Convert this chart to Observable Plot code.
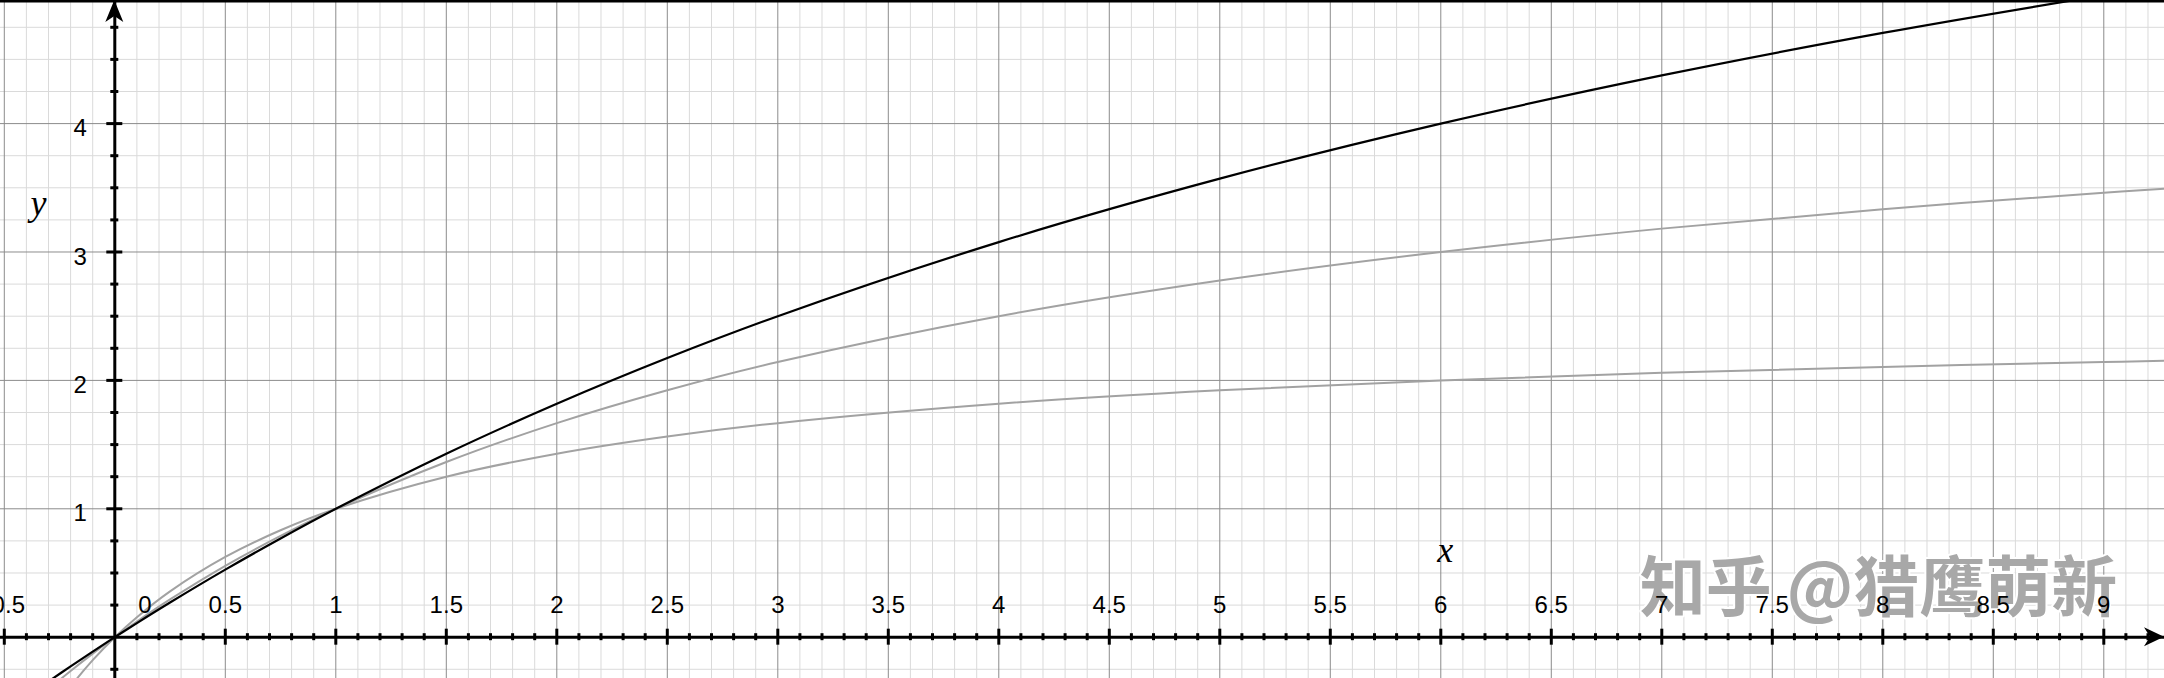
<!DOCTYPE html>
<html><head><meta charset="utf-8">
<script src="https://cdn.jsdelivr.net/npm/d3@7"></script>
<script src="https://cdn.jsdelivr.net/npm/@observablehq/plot@0.6"></script>
<style>html,body{margin:0;padding:0;background:#fff;overflow:hidden} svg{display:block}</style>
</head><body><div id="chart"></div>
<script>
// Sample points
const xSamples = [-0.3, -0.2, -0.1, 0, 0.1, 0.25, 0.5, 0.75, 1, 1.5, 2, 2.5, 3, 4, 5, 6, 7, 8, 9, 9.3];
const yCurveA = [-0.625, -0.385, -0.179, 0, 0.156, 0.357, 0.625, 0.833, 1, 1.25, 1.429, 1.563, 1.667, 1.818, 1.923, 2, 2.059, 2.105, 2.143, 2.153]; // gray, lower
const yCurveB = [-0.405, -0.263, -0.128, 0, 0.122, 0.294, 0.556, 0.789, 1, 1.364, 1.667, 1.923, 2.143, 2.5, 2.778, 3, 3.182, 3.333, 3.462, 3.496]; // gray, upper
const yCurveC = [-0.345, -0.227, -0.112, 0, 0.110, 0.270, 0.526, 0.769, 1, 1.429, 1.818, 2.174, 2.5, 3.077, 3.571, 4, 4.375, 4.706, 5, 5.082]; // black

const xTickValues = [-0.5, 0, 0.5, 1, 1.5, 2, 2.5, 3, 3.5, 4, 4.5, 5, 5.5, 6, 6.5, 7, 7.5, 8, 8.5, 9];
const xTickLabels = ["-0.5", "0", "0.5", "1", "1.5", "2", "2.5", "3", "3.5", "4", "4.5", "5", "5.5", "6", "6.5", "7", "7.5", "8", "8.5", "9"];
const yTickValues = [1, 2, 3, 4];
const yTickLabels = ["1", "2", "3", "4"];
const axisNames = ["x", "y"];
const watermark = "知乎 @猎鹰萌新";

// layout constants
const W = 2164, H = 678;
const xDomain = [-0.5172, 9.2747];
const yDomain = [-0.3217, 4.9587];
const pxX = W / (xDomain[1] - xDomain[0]);
const pxY = H / (yDomain[1] - yDomain[0]);

const rows = [];
const series = [["A", yCurveA], ["B", yCurveB], ["C", yCurveC]];
for (const [name, ys] of series) xSamples.forEach((x, i) => rows.push({series: name, x, y: ys[i]}));

const eps = 1e-9;
const xMinor = d3.range(-5, 93).map(i => i / 10);
const xMajorGrid = xMinor.filter(v => Math.abs(v * 2 - Math.round(v * 2)) < eps);
const xMinorGrid = xMinor.filter(v => !xMajorGrid.includes(v));
const yMinor = d3.range(-1, 20).map(i => i / 4);
const yMajorGrid = yMinor.filter(v => Number.isInteger(v));
const yMinorGrid = yMinor.filter(v => !Number.isInteger(v));

const xTicksMinor = xMinorGrid.filter(v => Math.abs(v) > eps);
const xTicksMajor = xMajorGrid.filter(v => Math.abs(v) > eps);
const yTicksMinor = yMinorGrid;
const yTicksMajor = yMajorGrid.filter(v => v !== 0);

const light = "#dadada", dark = "#8c8c8c", grayCurve = "#a2a2a2";
const labelFont = "Liberation Sans, Arial, Helvetica, sans-serif";

const xLabelRows = xTickValues.map((v, i) => ({v, t: xTickLabels[i]}));
const yLabelRows = yTickValues.map((v, i) => ({v, t: yTickLabels[i]}));

const chart = Plot.plot({
  width: W, height: H, margin: 0,
  style: {background: "#fff"},
  x: {domain: xDomain, axis: null},
  y: {domain: yDomain, axis: null},
  marks: [
    Plot.ruleX(xMinorGrid, {stroke: light, strokeWidth: 1}),
    Plot.ruleY(yMinorGrid, {stroke: light, strokeWidth: 1}),
    Plot.ruleX(xMajorGrid, {stroke: dark, strokeWidth: 1}),
    Plot.ruleY(yMajorGrid, {stroke: dark, strokeWidth: 1}),
    Plot.line(rows.filter(d => d.series === "A"), {x: "x", y: "y", stroke: grayCurve, strokeWidth: 2, curve: "catmull-rom", clip: true}),
    Plot.line(rows.filter(d => d.series === "B"), {x: "x", y: "y", stroke: grayCurve, strokeWidth: 2, curve: "catmull-rom", clip: true}),
    // axes
    Plot.ruleY([0], {stroke: "#000", strokeWidth: 3}),
    Plot.ruleX([0], {stroke: "#000", strokeWidth: 3}),
    Plot.ruleX(xTicksMinor, {y1: -3.5 / pxY, y2: 3.5 / pxY, stroke: "#000", strokeWidth: 3}),
    Plot.ruleX(xTicksMajor, {y1: -8 / pxY, y2: 8 / pxY, stroke: "#000", strokeWidth: 3}),
    Plot.ruleY(yTicksMinor, {x1: -4 / pxX, x2: 4 / pxX, stroke: "#000", strokeWidth: 3}),
    Plot.ruleY(yTicksMajor, {x1: -8 / pxX, x2: 8 / pxX, stroke: "#000", strokeWidth: 3}),
    Plot.line(rows.filter(d => d.series === "C"), {x: "x", y: "y", stroke: "#000", strokeWidth: 2.2, curve: "catmull-rom", clip: true}),
    // watermark (under the tick labels)
    Plot.text([watermark], {x: 6.90, y: 0.37, text: d => d, textAnchor: "start", fontSize: 66, fontWeight: "bold",
      fontFamily: "Noto Sans CJK SC, sans-serif", fill: "#a8a8a8", stroke: "#fff", strokeWidth: 4}),
    // tick labels
    Plot.text(xLabelRows.filter(d => d.v !== 0), {
      x: "v", y: 0, text: "t", dy: -24,
      lineAnchor: "bottom", textAnchor: "middle", fontSize: 24, fontFamily: labelFont, fill: "#000"
    }),
    Plot.text(xLabelRows.filter(d => d.v === 0), {
      x: "v", y: 0, text: "t", dy: -24, dx: 30,
      lineAnchor: "bottom", textAnchor: "middle", fontSize: 24, fontFamily: labelFont, fill: "#000"
    }),
    Plot.text(yLabelRows, {
      x: 0, y: "v", text: "t", dx: -28, dy: 5,
      lineAnchor: "middle", textAnchor: "end", fontSize: 24, fontFamily: labelFont, fill: "#000"
    }),
    // axis names
    Plot.text([axisNames[0]], {x: 6.02, y: 0.675, text: d => d, fontSize: 36, fontStyle: "italic", fontFamily: "Liberation Serif, Times New Roman, serif", fill: "#000"}),
    Plot.text([axisNames[1]], {x: -0.345, y: 3.378, text: d => d, fontSize: 36, fontStyle: "italic", fontFamily: "Liberation Serif, Times New Roman, serif", fill: "#000"}),
    // top border
    Plot.ruleY([yDomain[1]], {stroke: "#000", strokeWidth: 4})
  ]
});

// arrowheads
const sx = chart.scale("x"), sy = chart.scale("y");
const ox = sx.apply(0), oy = sy.apply(0);
const svg = d3.select(chart);
svg.append("path")
  .attr("d", `M${ox},0 L${ox + 9},22 L${ox},16 L${ox - 9},22 Z`)
  .attr("fill", "#000");
svg.append("path")
  .attr("d", `M${W},${oy} L${W - 20},${oy - 9.5} L${W - 14},${oy} L${W - 20},${oy + 9.5} Z`)
  .attr("fill", "#000");

document.getElementById("chart").appendChild(chart);
</script>
</body></html>
